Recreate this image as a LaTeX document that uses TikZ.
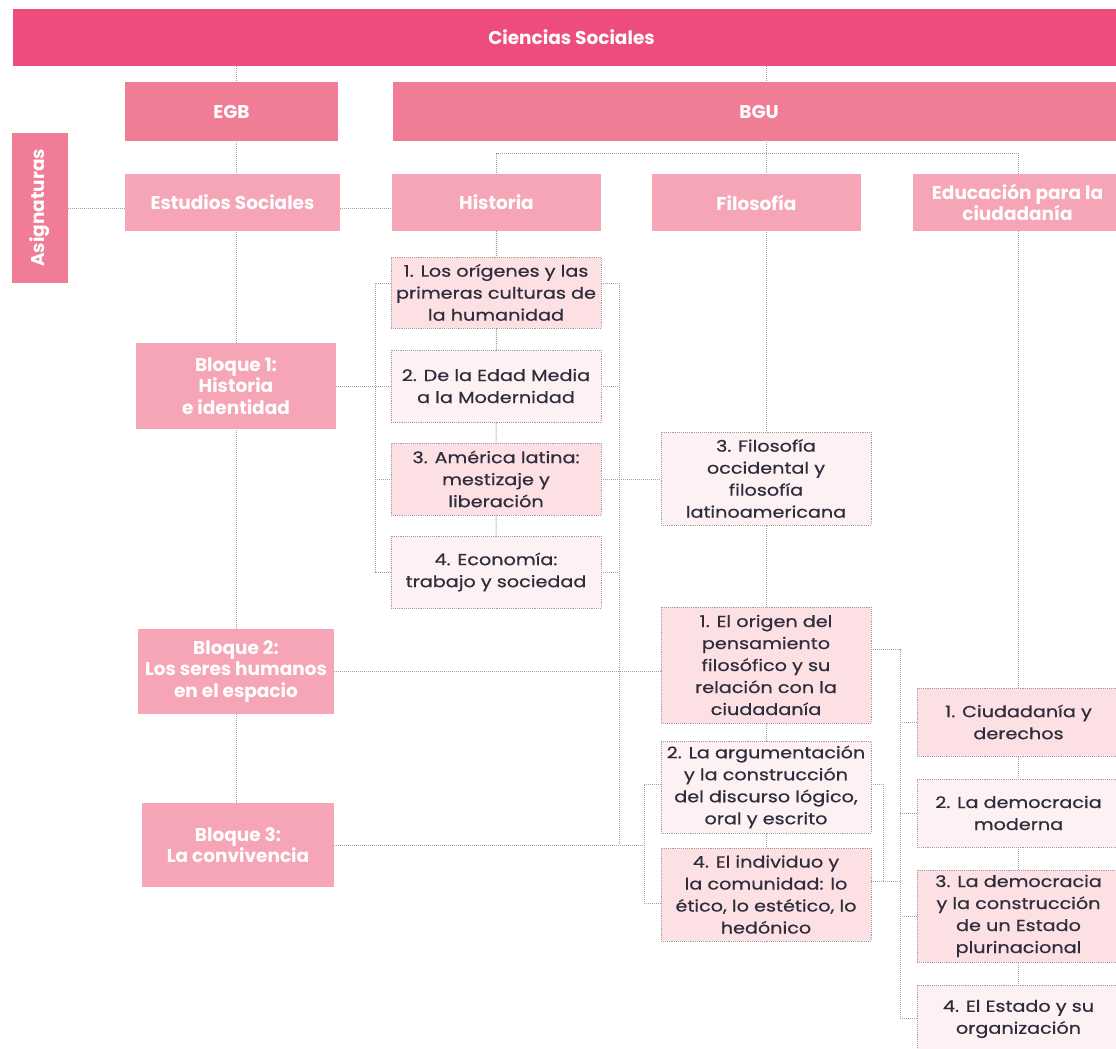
\documentclass[tikz,border=0pt]{standalone}
\usepackage{fontspec}
\setmainfont{Poppins}
\newfontfamily\itemfont{Poppins}[FakeStretch=1.2,FakeBold=0.6]
\usetikzlibrary{calc}
\pgfdeclarelayer{bg}
\pgfsetlayers{bg,main}
\definecolor{cTitle}{HTML}{EE4C7C}
\definecolor{cMid}{HTML}{F07C95}
\definecolor{cLight}{HTML}{F5A5B5}
\definecolor{cItemA}{HTML}{FCE0E4}
\definecolor{cItemB}{HTML}{FDF1F3}
\definecolor{cLine}{HTML}{A0A0A0}
\definecolor{cText}{HTML}{2E2D3C}
\newcommand\boxat[7]{\node[#6, minimum width={#4-#2}, minimum height={#5-#3}] (#1) at ({(#2+#4)/2},{(#3+#5)/2}) {#7};}
\begin{document}
\begin{tikzpicture}[x=1pt,y=-1pt,
  hdr/.style={fill=#1, text=white, font=\fontsize{18.5}{21.5}\selectfont\bfseries, inner sep=0pt, align=center},
  item/.style={fill=#1, draw=cLine, densely dotted, line width=0.9pt, text=cText, font=\itemfont\fontsize{16}{22}\selectfont, align=center, inner sep=0pt},
  conn/.style={draw=cLine, densely dotted, line width=1pt}]
\useasboundingbox (0,0) rectangle (1116,1049);
% headers
\boxat{title}{13}{9}{1130}{66}{hdr=cTitle}{Ciencias Sociales}
\boxat{egb}{125}{82}{338}{141}{hdr=cMid}{EGB}
\boxat{bgu}{393}{82}{1125}{141}{hdr=cMid}{BGU}
\node[hdr=cMid, rotate=90, minimum width=150, minimum height=56] (asig) at (40,208) {Asignaturas};
\boxat{es}{125}{174}{340}{231}{hdr=cLight}{Estudios Sociales}
\boxat{hist}{392}{174}{601}{231}{hdr=cLight}{Historia}
\boxat{fil}{652}{174}{861}{231}{hdr=cLight}{Filosofía}
\boxat{edu}{913}{174}{1122}{231}{hdr=cLight}{Educación para la\\[-1pt]ciudadanía}
\boxat{b1}{136}{343}{336}{429}{hdr=cLight}{Bloque 1:\\Historia\\e identidad}
\boxat{b2}{138}{629}{334}{714}{hdr=cLight}{Bloque 2:\\Los seres humanos\\en el espacio}
\boxat{b3}{142}{803}{334}{887}{hdr=cLight}{Bloque 3:\\La convivencia}
% Historia items
\boxat{h1}{391}{257}{601}{328}{item=cItemA}{1. Los orígenes y las\\primeras culturas de\\la humanidad}
\boxat{h2}{391}{350}{601}{422}{item=cItemB}{2. De la Edad Media\\a la Modernidad}
\boxat{h3}{391}{443}{601}{515}{item=cItemA}{3. América latina:\\mestizaje y\\liberación}
\boxat{h4}{391}{536}{601}{608}{item=cItemB}{4. Economía:\\trabajo y sociedad}
% Filosofia items
\boxat{f3}{661}{432}{871}{525}{item=cItemB}{3. Filosofía\\occidental y\\filosofía\\latinoamericana}
\boxat{f1}{661}{607}{871}{723}{item=cItemA}{1. El origen del\\pensamiento\\filosófico y su\\relación con la\\ciudadanía}
\boxat{f2}{661}{741}{871}{833}{item=cItemB}{2. La argumentación\\y la construcción\\del discurso lógico,\\oral y escrito}
\boxat{f4}{661}{848}{871}{941}{item=cItemA}{4. El individuo y\\la comunidad: lo\\ético, lo estético, lo\\hedónico}
% Educacion items
\boxat{e1}{917}{688}{1120}{756}{item=cItemA}{1. Ciudadanía y\\derechos}
\boxat{e2}{917}{779}{1120}{847}{item=cItemB}{2. La democracia\\moderna}
\boxat{e3}{917}{870}{1120}{962}{item=cItemA}{3. La democracia\\y la construcción\\de un Estado\\plurinacional}
\boxat{e4}{917}{985}{1120}{1053}{item=cItemB}{4. El Estado y su\\organización}
% connectors
\coordinate (hl) at (375,283);
\coordinate (hr) at (619,283);
\coordinate (bgurow) at (496,153);
\coordinate (fl) at (644,784);
\coordinate (frt) at (883,784);
\coordinate (frb) at (883,881);
\coordinate (el) at (900,649);
\coordinate (eb) at (900,1018);
\coordinate (f4s) at (644,903);
\begin{pgfonlayer}{bg}
\draw[conn] (title.south -| b1.north) -- (b1.north |- b3.north);
\draw[conn] (title.south -| f3.north) -- (f4.north);
\draw[conn] (asig.south) -- (hist.west |- asig.south);
\draw[conn] (hist.south) -- (hist.north |- bgurow) -- (e1.north |- bgurow) -- (e4.north);
\draw[conn] (hist.south) -- (h4.north);
% left bracket Historia
\draw[conn] (h1.west |- hl) -- (hl) -- (hl |- h4.west) -- (h4.west);
\draw[conn] (b1.east) -- (h2.west);
\draw[conn] (hl |- h3.west) -- (h3.west);
% right bracket Historia
\draw[conn] (h1.east |- hr) -- (hr) -- (hr |- b3.east);
\draw[conn] (h2.east) -- (h2.east -| hr);
\draw[conn] (h3.east) -- (f3.west |- h3.east);
\draw[conn] (h4.east) -- (h4.east -| hr);
\draw[conn] (b2.east) -- (f1.west |- b2.east);
\draw[conn] (b3.east) -- (fl |- b3.east);
% Filosofia brackets
\draw[conn] (f2.west |- fl) -- (fl) -- (f4s) -- (f4.west |- f4s);
\draw[conn] (f2.east |- frt) -- (frt) -- (frb) -- (f4.east |- frb);
\draw[conn] (frb) -- (el |- frb);
% Educacion bracket
\draw[conn] (f1.east |- el) -- (el) -- (eb) -- (e4.west |- eb);
\draw[conn] (el |- e1.west) -- (e1.west);
\draw[conn] (el |- e2.west) -- (e2.west);
\draw[conn] (el |- e3.west) -- (e3.west);
\end{pgfonlayer}
\end{tikzpicture}
\end{document}
